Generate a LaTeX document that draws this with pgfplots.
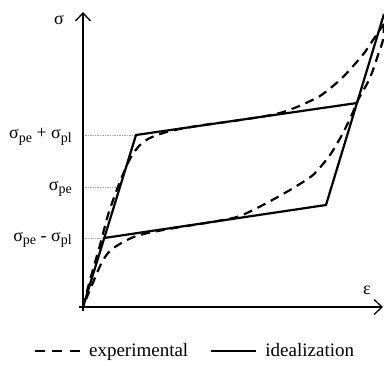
\documentclass[border=0pt]{standalone}
\usepackage{fontspec}
\setmainfont{Liberation Serif}
\usepackage{pgfplots}
\pgfplotsset{compat=1.18}
\usetikzlibrary{arrows.meta}
\newcommand{\sub}[1]{\raisebox{-0.45ex}{\fontsize{14bp}{14bp}\selectfont #1}}

\begin{document}
\begin{tikzpicture}[font=\fontsize{18bp}{20bp}\selectfont]
\useasboundingbox (-83bp,-59bp) rectangle (301bp,307bp);
\begin{axis}[
  scale only axis, width=301bp, height=295bp,
  xmin=0, xmax=301, ymin=0, ymax=295,
  axis lines=left, axis line style={draw=none},
  xtick=\empty, ytick={69,120,172},
  yticklabels={σ\sub{pe} - σ\sub{pl}, σ\sub{pe}, σ\sub{pe} + σ\sub{pl}},
  major tick length=0pt,
  yticklabel style={inner sep=0pt, xshift=-11bp, yshift=-2bp},
  clip=false,
  legend style={at={(0.372,-0.149)}, anchor=center, draw=none, fill=none,
                legend columns=2, font=\fontsize{19bp}{21bp}\selectfont,
                /tikz/every odd column/.append style={column sep=6bp},
                /tikz/every even column/.append style={column sep=20bp}},
  legend image code/.code={\draw[#1] (0bp,0bp) -- (45bp,0bp);},
  legend cell align=left,
]
% guides
\addplot[gray!70, densely dotted, line width=0.7bp, forget plot] coordinates {(0,172) (53,172)};
\addplot[gray!70, densely dotted, line width=0.7bp, forget plot] coordinates {(0,120) (37,120)};
\addplot[gray!70, densely dotted, line width=0.7bp, forget plot] coordinates {(0,69) (21.3,69)};
% experimental
\addplot[black, line width=2.2bp, dash pattern=on 9bp off 6bp, smooth, tension=0.4,
  legend image code/.code={\draw[black, line width=2.2bp, dash pattern=on 10bp off 7.5bp] (0bp,0bp) -- (45bp,0bp);}] coordinates {
 (0,0) (7,27) (17,62) (25,92) (33,115) (41,135) (48,150) (56,161) (65,168)
 (77,173) (92,177) (117,181.5) (147,185.5) (177,190) (197,194) (214,200)
 (237,211) (257,227) (272,243) (282,255) (290,267) (296,276) (301,283)};
\addlegendentry{experimental}
\addplot[black, line width=2.2bp, dash pattern=on 9bp off 6bp, smooth, tension=0.4, forget plot] coordinates {
 (301,283) (300,267) (295,252) (290,237) (285,225) (275,207) (270,195)
 (260,174) (247,152) (230,132) (207,117) (180,102) (154,90) (117,83)
 (97,80) (67,74.5) (52,70.5) (42,66) (32,60) (25,54) (19,45) (14,34)
 (9,22) (4,10) (0,0)};
% idealization
\addplot[black, line width=2.2bp] coordinates {(0,0) (53,172) (274,204)};
\addlegendentry{idealization}
\addplot[black, line width=2.2bp, forget plot] coordinates {(21.3,69) (243,102) (301,293)};
% axes
\draw[line width=1.3bp, -{Straight Barb[length=8bp,width=15bp]}] (axis cs:0,-4) -- (axis cs:0,295);
\draw[line width=1.3bp, -{Straight Barb[length=8bp,width=15bp]}] (axis cs:-4,0) -- (axis cs:300,0);
\node at (axis cs:-24,287) {σ};
\node at (axis cs:284,17) {ε};
\end{axis}
\end{tikzpicture}
\end{document}
